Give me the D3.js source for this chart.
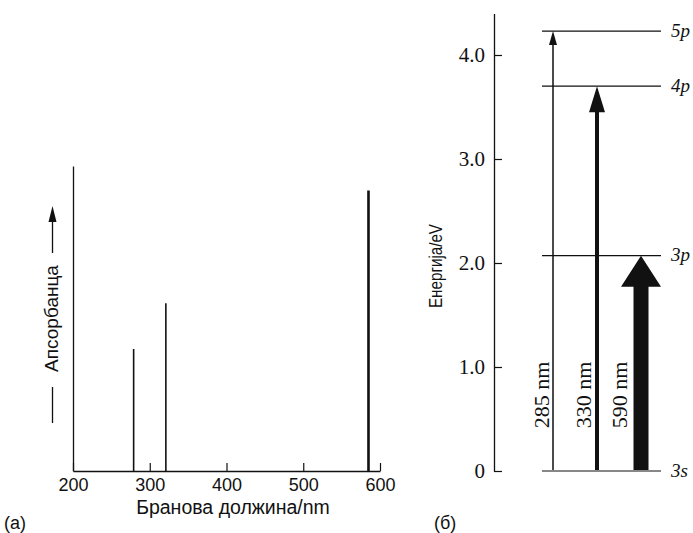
<!DOCTYPE html>
<html>
<head>
<meta charset="utf-8">
<script src="https://cdn.jsdelivr.net/npm/d3@7"></script>
<style>
  html, body { margin: 0; padding: 0; background: #fff; }
  svg { display: block; }
</style>
</head>
<body>
<svg id="chart" width="693" height="533"></svg>
<script>
// ---------- DATA ----------
// (a) absorption spectrum
const wavelengthTicks = [200, 300, 400, 500, 600];
const peakWavelengths = [279, 321, 585];
const peakAbsorbance = [0.40, 0.55, 0.92];

// (б) energy level diagram
const levelNames = ["3s", "3p", "4p", "5p"];
const levelEnergies = [0, 2.07, 3.70, 4.23];
const energyTicks = [0, 1, 2, 3, 4];
const transitionLabels = ["285 nm", "330 nm", "590 nm"];
const transitionUpper = ["5p", "4p", "3p"];
const transitionLower = ["3s", "3s", "3s"];

// ---------- STYLE ----------
const INK = "#111";
const SANS = "'Liberation Sans', Arial, sans-serif";
const SERIF = "'Liberation Serif', 'Times New Roman', serif";
// arrow shapes per transition: shaft width, head width, head length
const arrowStyle = [
  { shaft: 1.5, headW: 8, headL: 14 },
  { shaft: 4, headW: 16, headL: 26 },
  { shaft: 15, headW: 40, headL: 31 }
];

const svg = d3.select("#chart");

// ================= PANEL (a) =================
const xA = d3.scaleLinear().domain([200, 600]).range([73, 380]);
const yA = d3.scaleLinear().domain([0, 1]).range([471, 166]);

const gA = svg.append("g");

// x axis
const xAxisA = d3.axisBottom(xA)
  .tickValues(wavelengthTicks)
  .tickSizeInner(-8)
  .tickSizeOuter(0)
  .tickPadding(7)
  .tickFormat(d3.format("d"));
const gxA = gA.append("g").attr("transform", `translate(0,${yA(0)})`).call(xAxisA);
gxA.select(".domain").attr("stroke", INK).attr("stroke-width", 1.3);
gxA.selectAll(".tick line").attr("stroke", INK).attr("stroke-width", 1.2);
gxA.selectAll(".tick text").attr("fill", INK).style("font-family", SANS).style("font-size", "18px");

// y axis (plain line)
const yAxisA = d3.axisLeft(yA).tickValues([]).tickSizeOuter(0);
const gyA = gA.append("g").attr("transform", `translate(${xA(200)},0)`).call(yAxisA);
gyA.select(".domain").attr("stroke", INK).attr("stroke-width", 1.3);

// peaks
const peakWidths = [1.6, 1.6, 2.6];
gA.selectAll("line.peak")
  .data(peakWavelengths.map((w, i) => ({ w, a: peakAbsorbance[i], i })))
  .join("line")
  .attr("class", "peak")
  .attr("x1", d => xA(d.w)).attr("x2", d => xA(d.w))
  .attr("y1", yA(0)).attr("y2", d => yA(d.a))
  .attr("stroke", INK)
  .attr("stroke-width", d => peakWidths[d.i]);

// axis labels
gA.append("text")
  .attr("x", 233).attr("y", 514)
  .attr("text-anchor", "middle")
  .attr("fill", INK)
  .style("font-family", SANS).style("font-size", "19.5px")
  .text("Бранова должина/nm");

// y label with arrow
const yLabX = 51;
gA.append("text")
  .attr("transform", `translate(${yLabX},318.5) rotate(-90)`)
  .attr("text-anchor", "middle")
  .attr("dy", "0.35em")
  .attr("fill", INK)
  .style("font-family", SANS).style("font-size", "19px")
  .text("Апсорбанца");
gA.append("line")
  .attr("x1", yLabX + 1.5).attr("x2", yLabX + 1.5)
  .attr("y1", 253).attr("y2", 220)
  .attr("stroke", INK).attr("stroke-width", 1.3);
gA.append("path")
  .attr("d", `M${yLabX + 1.5},206 L${yLabX + 5.5},222 L${yLabX - 2.5},222 Z`)
  .attr("fill", INK);
gA.append("line")
  .attr("x1", yLabX + 1.5).attr("x2", yLabX + 1.5)
  .attr("y1", 387).attr("y2", 423)
  .attr("stroke", INK).attr("stroke-width", 1.3);

gA.append("text")
  .attr("x", 4).attr("y", 529)
  .attr("fill", INK)
  .style("font-family", SANS).style("font-size", "18px")
  .text("(a)");

// ================= PANEL (б) =================
const yB = d3.scaleLinear().domain([0, 4.4]).range([471, 13.4]);
const levelX = d3.scaleLinear().domain([0, 1]).range([542, 661]);
const arrowX = d3.scalePoint().domain(transitionLabels).range([553, 641]);

const gB = svg.append("g");

const yAxisB = d3.axisLeft(yB)
  .tickValues(energyTicks)
  .tickSizeInner(-8)
  .tickSizeOuter(0)
  .tickPadding(9)
  .tickFormat(d => d === 0 ? "0" : d.toFixed(1));
const gyB = gB.append("g").attr("transform", "translate(494,0)").call(yAxisB);
gyB.select(".domain").attr("stroke", INK).attr("stroke-width", 1.3);
gyB.selectAll(".tick line").attr("stroke", INK).attr("stroke-width", 1.2);
gyB.selectAll(".tick text").attr("fill", INK).style("font-family", SERIF).style("font-size", "21px");

// y label
gB.append("text")
  .attr("transform", "translate(435,266) rotate(-90)")
  .attr("text-anchor", "middle")
  .attr("dy", "0.35em")
  .attr("fill", INK)
  .attr("textLength", 84)
  .attr("lengthAdjust", "spacingAndGlyphs")
  .style("font-family", SANS).style("font-size", "19px")
  .text("Енергија/eV");

// levels
const levels = levelNames.map((n, i) => ({ name: n, e: levelEnergies[i] }));
gB.selectAll("line.level")
  .data(levels)
  .join("line")
  .attr("class", "level")
  .attr("x1", levelX(0)).attr("x2", levelX(1))
  .attr("y1", d => yB(d.e)).attr("y2", d => yB(d.e))
  .attr("stroke", INK).attr("stroke-width", 1.2);

gB.selectAll("text.level")
  .data(levels)
  .join("text")
  .attr("class", "level")
  .attr("x", levelX(1) + 10)
  .attr("y", d => yB(d.e))
  .attr("dy", "0.3em")
  .attr("fill", INK)
  .style("font-family", SERIF).style("font-size", "19px").style("font-style", "italic")
  .text(d => d.name);

// transitions
const energyOf = name => levelEnergies[levelNames.indexOf(name)];
const trans = transitionLabels.map((t, i) => ({
  label: t,
  x: arrowX(t),
  top: yB(energyOf(transitionUpper[i])),
  bottom: yB(energyOf(transitionLower[i])) - 1,
  s: arrowStyle[i]
}));

gB.selectAll("path.arrow")
  .data(trans)
  .join("path")
  .attr("class", "arrow")
  .attr("fill", INK)
  .attr("d", d => {
    const hw = d.s.headW / 2, sw = d.s.shaft / 2, hb = d.top + d.s.headL;
    return `M${d.x},${d.top} L${d.x + hw},${hb} L${d.x + sw},${hb} L${d.x + sw},${d.bottom}` +
           ` L${d.x - sw},${d.bottom} L${d.x - sw},${hb} L${d.x - hw},${hb} Z`;
  });

const labelOffset = [-11.5, -13.5, -21];
gB.selectAll("text.trans")
  .data(trans)
  .join("text")
  .attr("class", "trans")
  .attr("transform", (d, i) => `translate(${d.x + labelOffset[i]},395) rotate(-90)`)
  .attr("text-anchor", "middle")
  .attr("dy", "0.33em")
  .attr("fill", INK)
  .style("font-family", SERIF).style("font-size", "22px")
  .text(d => d.label);

gB.append("text")
  .attr("x", 434).attr("y", 529)
  .attr("fill", INK)
  .style("font-family", SANS).style("font-size", "18px")
  .text("(б)");
</script>
</body>
</html>
